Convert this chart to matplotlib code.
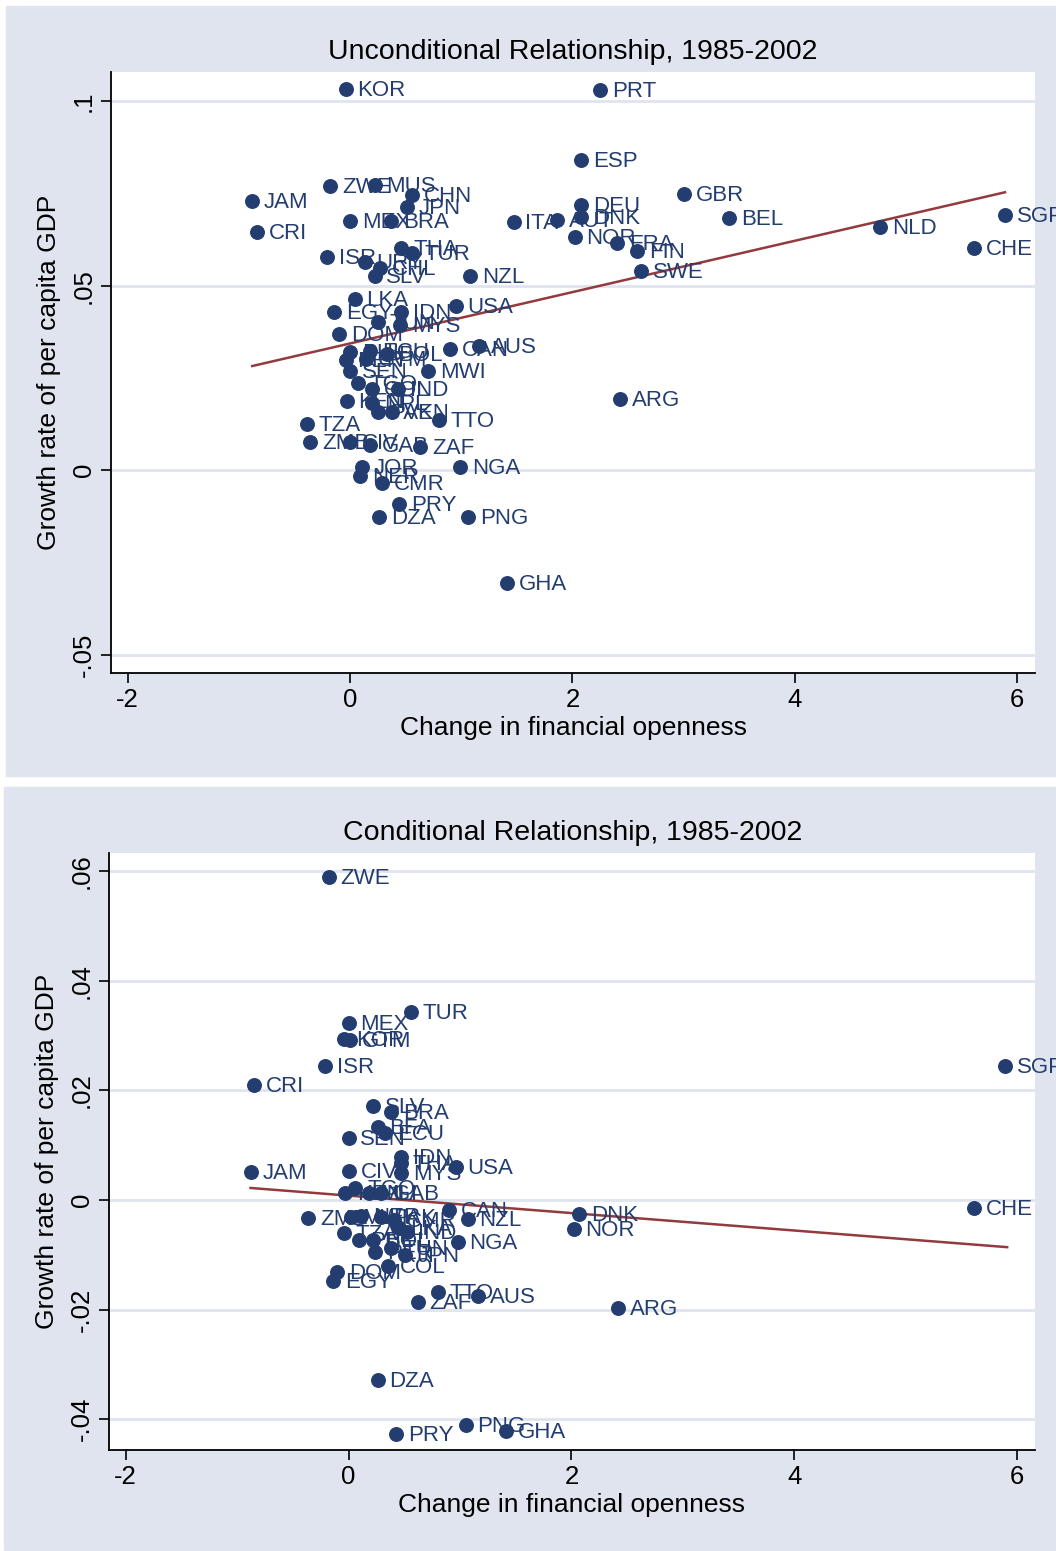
import matplotlib.pyplot as plt
from matplotlib.patches import Rectangle

plt.rcParams['font.family'] = ['Liberation Sans', 'DejaVu Sans']

# ---- data: unconditional relationship (top) ----
top_names = ['KOR', 'PRT', 'ESP', 'ZWE', 'MUS', 'CHN', 'JAM', 'JPN', 'DEU', 'GBR',
             'MEX', 'BRA', 'CRI', 'ITA', 'AUT', 'DNK', 'BEL', 'NOR', 'FRA', 'FIN',
             'SWE', 'NLD', 'SGP', 'CHE', 'ISR', 'THA', 'TUR', 'URY', 'CHL', 'SLV',
             'NZL', 'LKA', 'USA', 'EGY', 'IDN', 'TUN', 'MYS', 'DOM', 'CAN', 'AUS',
             'PHL', 'PER', 'ECU', 'GTM', 'BOL', 'SEN', 'MWI', 'TGO', 'COL', 'IND',
             'KEN', 'NPL', 'PAK', 'VEN', 'TTO', 'ARG', 'TZA', 'ZMB', 'CIV', 'GAB',
             'ZAF', 'JOR', 'NER', 'CMR', 'NGA', 'PRY', 'DZA', 'PNG', 'GHA']
top_x = [-0.04, 2.25, 2.08, -0.18, 0.22, 0.56, -0.88, 0.51, 2.08, 3.00,
         0.00, 0.37, -0.84, 1.47, 1.86, 2.08, 3.41, 2.02, 2.40, 2.58,
         2.62, 4.77, 5.89, 5.61, -0.21, 0.46, 0.56, 0.13, 0.27, 0.22,
         1.08, 0.04, 0.95, -0.14, 0.46, 0.25, 0.45, -0.10, 0.90, 1.16,
         0.00, -0.04, 0.18, 0.14, 0.33, 0.00, 0.70, 0.07, 0.20, 0.43,
         -0.03, 0.20, 0.25, 0.38, 0.80, 2.43, -0.39, -0.36, 0.00, 0.18,
         0.63, 0.11, 0.09, 0.29, 0.99, 0.44, 0.26, 1.06, 1.41]
top_y = [0.1033, 0.1030, 0.0840, 0.0770, 0.0772, 0.0745, 0.0729, 0.0712, 0.0718, 0.0748,
         0.0675, 0.0675, 0.0645, 0.0672, 0.0678, 0.0686, 0.0683, 0.0631, 0.0615, 0.0593,
         0.0540, 0.0659, 0.0691, 0.0602, 0.0577, 0.0602, 0.0588, 0.0564, 0.0547, 0.0526,
         0.0526, 0.0463, 0.0444, 0.0428, 0.0428, 0.0402, 0.0393, 0.0369, 0.0328, 0.0336,
         0.0320, 0.0298, 0.0322, 0.0300, 0.0314, 0.0268, 0.0268, 0.0236, 0.0220, 0.0220,
         0.0187, 0.0182, 0.0157, 0.0157, 0.0136, 0.0193, 0.0125, 0.0076, 0.0076, 0.0068,
         0.0062, 0.0008, -0.0015, -0.0035, 0.0008, -0.0092, -0.0127, -0.0127, -0.0306]
top_fit_x = [-0.88, 5.89]
top_fit_y = [0.0282, 0.0753]

# ---- data: conditional relationship (bottom) ----
bot_names = ['ZWE', 'TUR', 'MEX', 'KOR', 'GTM', 'ISR', 'CRI', 'JAM', 'SGP', 'CHE',
             'SLV', 'BRA', 'BFA', 'ECU', 'SEN', 'IDN', 'THA', 'MYS', 'USA', 'CIV',
             'TGO', 'KEN', 'MLI', 'GAB', 'CAN', 'NZL', 'ZMB', 'MWI', 'NER', 'PAK',
             'CMR', 'TZA', 'PHL', 'BOL', 'LKA', 'IND', 'PER', 'TUN', 'JPN', 'NGA',
             'COL', 'DOM', 'EGY', 'TTO', 'AUS', 'ZAF', 'ARG', 'DNK', 'NOR', 'DZA',
             'PNG', 'GHA', 'PRY']
bot_x = [-0.18, 0.56, 0.00, -0.04, 0.01, -0.21, -0.85, -0.88, 5.89, 5.61,
         0.22, 0.38, 0.26, 0.33, 0.00, 0.47, 0.47, 0.47, 0.96, 0.00,
         0.06, -0.03, 0.18, 0.29, 0.90, 1.07, -0.36, 0.02, 0.11, 0.29,
         0.41, -0.04, 0.09, 0.22, 0.45, 0.52, 0.24, 0.38, 0.51, 0.98,
         0.35, -0.10, -0.14, 0.80, 1.16, 0.62, 2.42, 2.07, 2.02, 0.26,
         1.05, 1.41, 0.43]
bot_y = [0.0589, 0.0343, 0.0323, 0.0294, 0.0292, 0.0244, 0.0209, 0.0051, 0.0244, -0.0015,
         0.0171, 0.0160, 0.0133, 0.0122, 0.0113, 0.0078, 0.0067, 0.0049, 0.0060, 0.0053,
         0.0022, 0.0013, 0.0013, 0.0013, -0.0018, -0.0035, -0.0033, -0.0031, -0.0029, -0.0031,
         -0.0036, -0.0060, -0.0073, -0.0073, -0.0051, -0.0058, -0.0095, -0.0087, -0.0100, -0.0077,
         -0.0120, -0.0131, -0.0148, -0.0168, -0.0175, -0.0186, -0.0197, -0.0025, -0.0053, -0.0328,
         -0.0410, -0.0422, -0.0427]
bot_fit_x = [-0.88, 5.91]
bot_fit_y = [0.0022, -0.0086]

W, H = 1056, 1551
bg = '#dfe4ef'
navy = '#233d70'
maroon = '#923a3e'

fig = plt.figure(figsize=(W / 100, H / 100), dpi=100)
fig.patch.set_facecolor('white')

# the two graph regions
fig.add_artist(Rectangle((6 / W, 1 - 776 / H), 1 - 6 / W, 770 / H,
                         transform=fig.transFigure, color=bg, zorder=0))
fig.add_artist(Rectangle((4 / W, 1 - 1550 / H), 1 - 4 / W, 763 / H,
                         transform=fig.transFigure, color=bg, zorder=0))


def make_panel(box, names, xs, ys, fx, fy, ylim, yticks, ylabels, title, title_y):
    l, t, r, b = box
    ax = fig.add_axes([l / W, 1 - b / H, (r - l) / W, (b - t) / H])
    ax.set_facecolor('white')
    ax.set_xlim(-2.15, 6.16)
    ax.set_ylim(*ylim)
    for s in ['top', 'right']:
        ax.spines[s].set_visible(False)
    for s in ['left', 'bottom']:
        ax.spines[s].set_linewidth(1.3)
    ax.set_yticks(yticks)
    ax.set_yticklabels(ylabels, rotation=90, va='center', fontsize=18.5)
    ax.set_xticks([-2, 0, 2, 4, 6])
    ax.set_xticklabels(['-2', '0', '2', '4', '6'], fontsize=18.5)
    ax.tick_params(direction='out', length=7, width=1.2, pad=4)
    ax.grid(axis='y', color=bg, linewidth=2)
    ax.set_axisbelow(True)

    ax.plot(fx, fy, color=maroon, linewidth=1.8, zorder=2)
    ax.scatter(xs, ys, s=95, color=navy, zorder=3, clip_on=False)
    for n, x, y in zip(names, xs, ys):
        ax.annotate(n, (x, y), xytext=(8.5, -1), textcoords='offset points',
                    va='center', ha='left', fontsize=16, color=navy,
                    annotation_clip=False, zorder=4)

    ax.set_xlabel('Change in financial openness', fontsize=19, labelpad=3)
    ax.set_ylabel('Growth rate of per capita GDP', fontsize=19, labelpad=8)
    fig.text(0.542, 1 - title_y / H, title, ha='center', va='center', fontsize=20.5)
    return ax


make_panel((111, 72, 1035, 673), top_names, top_x, top_y, top_fit_x, top_fit_y,
           (-0.0550, 0.1079), [-0.05, 0, 0.05, 0.1], ['-.05', '0', '.05', '.1'],
           'Unconditional Relationship, 1985-2002', 52)
make_panel((109, 853, 1035, 1450), bot_names, bot_x, bot_y, bot_fit_x, bot_fit_y,
           (-0.0456, 0.0633), [-0.04, -0.02, 0, 0.02, 0.04, 0.06],
           ['-.04', '-.02', '0', '.02', '.04', '.06'],
           'Conditional Relationship, 1985-2002', 833)

plt.savefig('out.png', dpi=100)
